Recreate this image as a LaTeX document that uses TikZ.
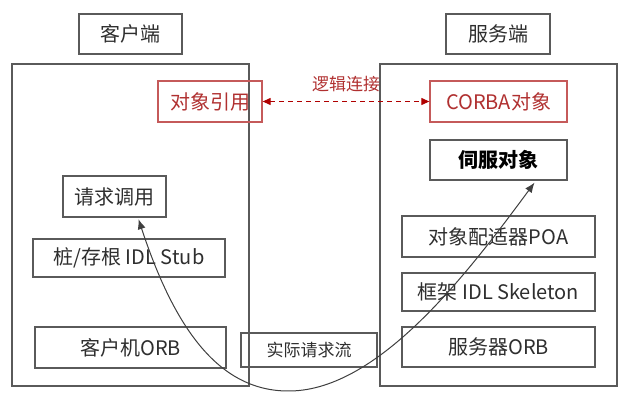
\documentclass[tikz,border=0pt]{standalone}
\usepackage{fontspec}
\setmainfont{Noto Sans CJK SC}
\usetikzlibrary{arrows.meta}
\definecolor{boxgray}{HTML}{5A5A5A}
\definecolor{boxred}{HTML}{C55A5A}
\definecolor{linkred}{HTML}{B00000}
\definecolor{txtgray}{HTML}{2E2E2E}
\definecolor{txtred}{HTML}{B03030}
\begin{document}
\begin{tikzpicture}[x=1pt,y=-1pt,
  base/.style={draw=boxgray,line width=1.3pt,inner sep=0pt,font=\fontsize{20}{23}\selectfont,text=txtgray},
  graybox/.style={base,minimum width=#1},
  redbox/.style={base,draw=boxred,text=txtred,minimum width=#1},
  frame/.style={draw=boxgray,line width=1.3pt,inner sep=0pt}]
\useasboundingbox (0,0) rectangle (641,403);
% frames
\node[frame,minimum width=237pt,minimum height=322pt] (lframe) at (130.5,225) {};
\node[frame,minimum width=237pt,minimum height=322pt] (rframe) at (498.5,225) {};
% client side
\node[graybox=103pt,minimum height=40pt] (ctitle) at (130.5,34) {客户端};
\node[redbox=104pt,minimum height=41pt] (ref) at (210,101.5) {对象引用};
\node[graybox=103pt,minimum height=41pt] (req) at (114.5,196.5) {请求调用};
\node[graybox=192pt,minimum height=38pt] (stub) at (129,258) {桩/存根 IDL Stub};
\node[graybox=191pt,minimum height=41pt] (corb) at (130.5,347.5) {客户机ORB};
% middle
\node[graybox=136pt,minimum height=34pt,font=\fontsize{17}{20}\selectfont] (flow) at (309,350) {实际请求流};
% server side
\node[graybox=104pt,minimum height=40pt] (stitle) at (498,34) {服务端};
\node[redbox=137pt,minimum height=41pt] (corba) at (498.5,101.5) {CORBA对象};
\node[graybox=137pt,minimum height=40pt,text=black,font=\fontsize{20}{23}\selectfont\bfseries] (servant) at (498.5,160) {伺服对象};
\node[graybox=193pt,minimum height=41pt] (poa) at (498.5,236.5) {对象配适器POA};
\node[graybox=193pt,minimum height=38pt] (skel) at (498.5,292) {框架 IDL Skeleton};
\node[graybox=193pt,minimum height=40pt] (sorb) at (498.5,347) {服务器ORB};
% logical link
\draw[linkred,line width=1.1pt,dash pattern=on 5pt off 4pt,{Triangle[length=8pt,width=7pt]}-{Triangle[length=8pt,width=7pt]}] (ref.east) -- node[above=6pt,text=txtred,font=\fontsize{17}{20}\selectfont] (lbl) {逻辑连接} (corba.west);
% actual request flow curve
\coordinate (cA) at ([xshift=24pt,yshift=-1.5pt]req.south);
\coordinate (cB) at ([xshift=36pt,yshift=-2pt]servant.south);
\draw[boxgray!70!black,line width=1pt,{Latex[length=10pt,width=8pt]}-{Latex[length=10pt,width=8pt]}]
  (cA) .. controls (175,330) and (220,392) .. (290,391)
       .. controls (380,390) and (470,270) .. (cB);
\end{tikzpicture}
\end{document}
